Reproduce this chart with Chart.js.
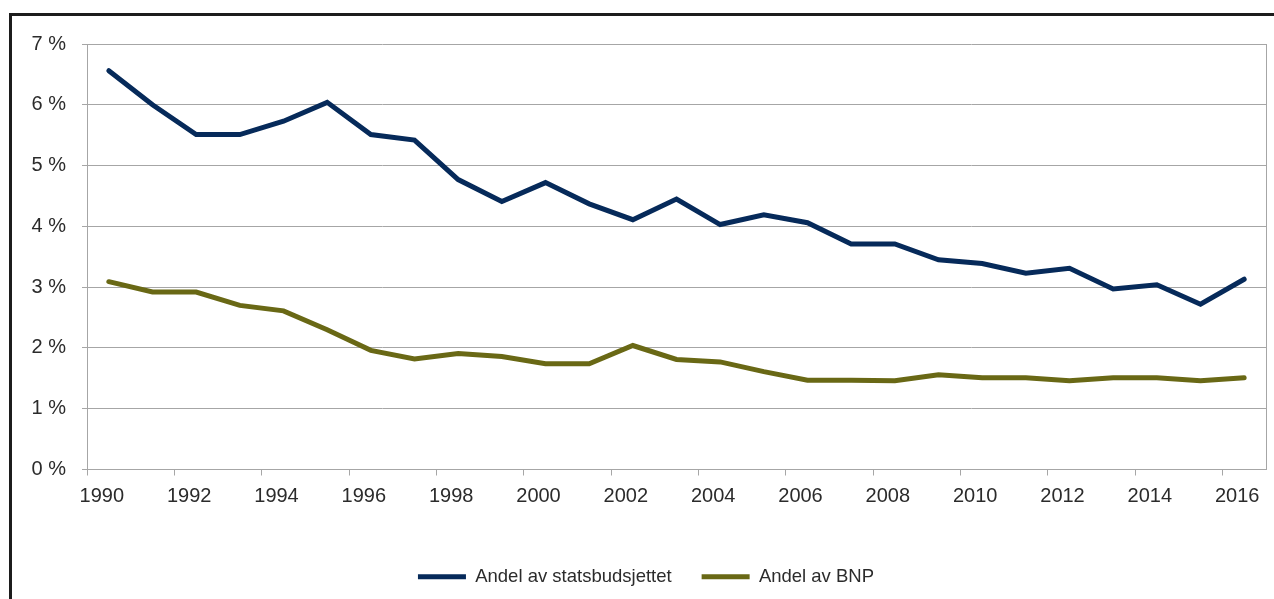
<!DOCTYPE html>
<html>
<head>
<meta charset="utf-8">
<script src="https://cdn.jsdelivr.net/npm/chart.js@4/dist/chart.umd.min.js"></script>
<style>
  html, body { margin: 0; padding: 0; width: 1274px; height: 599px; overflow: hidden; background: #fff; }
  #frame { position: absolute; left: 9px; top: 13px; width: 1400px; height: 800px; border: 3px solid #1c1c1c; box-sizing: border-box; }
  #wrap { position: absolute; left: 0; top: 0; width: 1274px; height: 599px; }
</style>
</head>
<body>
<div id="frame"></div>
<div id="wrap"><canvas id="c" width="1274" height="599"></canvas></div>
<script>
const years = ['1990','1991','1992','1993','1994','1995','1996','1997','1998','1999','2000','2001','2002','2003','2004','2005','2006','2007','2008','2009','2010','2011','2012','2013','2014','2015','2016'];
const statsbudsjett = [6.56,6.00,5.51,5.51,5.73,6.04,5.51,5.42,4.77,4.41,4.72,4.37,4.11,4.45,4.03,4.19,4.06,3.71,3.71,3.45,3.39,3.23,3.31,2.97,3.04,2.72,3.13];
const bnp = [3.09,2.92,2.92,2.70,2.61,2.30,1.96,1.82,1.91,1.86,1.74,1.74,2.04,1.81,1.77,1.61,1.47,1.47,1.46,1.56,1.51,1.51,1.46,1.51,1.51,1.46,1.51];
const seriesNames = ['Andel av statsbudsjettet', 'Andel av BNP'];
const yTicks = [0,1,2,3,4,5,6,7];

const plotBorder = {
  id: 'plotBorder',
  beforeDatasetsDraw(chart) {
    const {ctx, chartArea} = chart;
    ctx.save();
    ctx.strokeStyle = '#a6a6a6';
    ctx.lineWidth = 1;
    ctx.beginPath();
    const x = Math.round(chartArea.right) + 0.5;
    ctx.moveTo(x, chartArea.top);
    ctx.lineTo(x, chartArea.bottom);
    ctx.stroke();
    ctx.restore();
  }
};

new Chart(document.getElementById('c'), {
  type: 'line',
  data: {
    labels: years,
    datasets: [
      { label: seriesNames[0], data: statsbudsjett, borderColor: '#062a5a', backgroundColor: '#062a5a', borderWidth: 5, pointRadius: 0, pointHoverRadius: 0, tension: 0, borderCapStyle: 'round', borderJoinStyle: 'miter', pointStyle: 'line' },
      { label: seriesNames[1], data: bnp, borderColor: '#696815', backgroundColor: '#696815', borderWidth: 5, pointRadius: 0, pointHoverRadius: 0, tension: 0, borderCapStyle: 'round', borderJoinStyle: 'miter', pointStyle: 'line' }
    ]
  },
  options: {
    responsive: false,
    animation: false,
    devicePixelRatio: 1,
    layout: { padding: { left: 26, top: 44, right: 8, bottom: 3 } },
    plugins: {
      tooltip: { enabled: false },
      legend: {
        display: true,
        position: 'bottom',
        labels: {
          usePointStyle: true,
          pointStyle: 'line',
          pointStyleWidth: 48,
          boxHeight: 18,
          padding: 30,
          color: '#2b2b2b',
          font: { family: '"Liberation Sans", Arial, sans-serif', size: 18.5 }
        }
      }
    },
    scales: {
      x: {
        type: 'category',
        offset: true,
        grid: {
          offset: true,
          drawOnChartArea: false,
          drawTicks: true,
          tickLength: 6,
          color: (ctx) => (ctx.index % 2 === 0 ? '#a6a6a6' : 'rgba(0,0,0,0)'),
          lineWidth: 1
        },
        border: { display: true, color: '#a6a6a6', width: 1 },
        ticks: {
          autoSkip: false,
          maxRotation: 0,
          padding: 9,
          labelOffset: -7,
          color: '#2b2b2b',
          font: { family: '"Liberation Sans", Arial, sans-serif', size: 20 },
          callback: function(value, index) { return index % 2 === 0 ? this.getLabelForValue(value) : ''; }
        },
        afterFit: (scale) => { scale.height = 68; scale.paddingLeft = 0; scale.paddingRight = 0; }
      },
      y: {
        min: 0,
        max: 7,
        afterBuildTicks: (scale) => { scale.ticks = yTicks.map(v => ({ value: v })); },
        grid: { color: '#a6a6a6', lineWidth: 1, drawTicks: true, tickLength: 5 },
        border: { display: true, color: '#a6a6a6', width: 1 },
        ticks: {
          padding: 16,
          color: '#2b2b2b',
          font: { family: '"Liberation Sans", Arial, sans-serif', size: 20 },
          callback: (v) => v + ' %'
        },
        afterFit: (scale) => { scale.width = 61; scale.paddingTop = 0; scale.paddingBottom = 0; }
      }
    }
  },
  plugins: [plotBorder]
});
</script>
</body>
</html>
